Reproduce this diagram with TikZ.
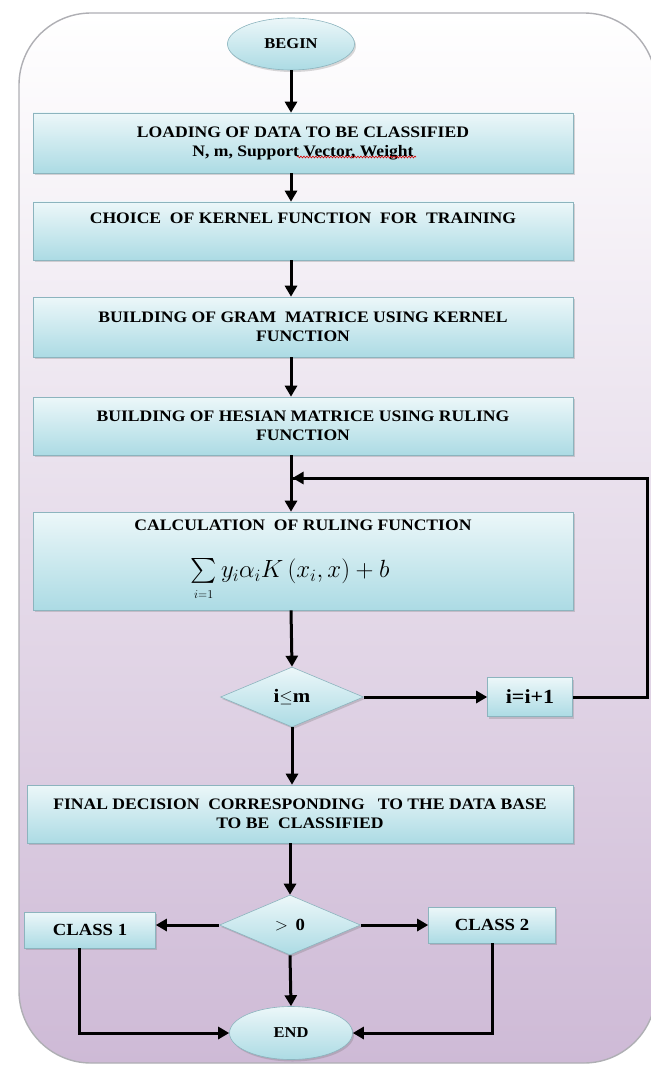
\documentclass[tikz,border=0pt]{standalone}
\usepackage{exscale}
\usepackage{fontspec}
\setmainfont[FakeStretch=1.1]{Liberation Serif}
\usetikzlibrary{arrows.meta,shapes.geometric,shadows,decorations.pathmorphing}
\definecolor{boxtop}{RGB}{236,247,249}
\definecolor{boxbot}{RGB}{172,219,228}
\definecolor{boxline}{RGB}{140,180,190}
\definecolor{bgbot}{RGB}{206,186,214}
\definecolor{bgline}{RGB}{175,175,180}
\tikzset{
  fillgrad/.style={top color=boxtop, bottom color=boxbot, draw=boxline, line width=0.6pt,
    drop shadow={shadow xshift=1.5pt, shadow yshift=-2pt, opacity=0.25, fill=black!60}},
  proc/.style={fillgrad, rectangle, inner sep=0pt, align=center,
    font=\bfseries\fontsize{16}{19}\selectfont},
  txt/.style={inner sep=0pt, align=center, font=\bfseries\fontsize{16}{19}\selectfont},
  term/.style={fillgrad, ellipse, inner sep=0pt, font=\bfseries\fontsize{15}{18}\selectfont},
  dec/.style={fillgrad, diamond, inner sep=0pt, font=\bfseries\fontsize{19}{22}\selectfont},
  small/.style={font=\bfseries\fontsize{17}{20}\selectfont},
  arr/.style={-{Triangle[length=11pt,width=12pt]}, line width=3pt},
  ln/.style={line width=3pt},
}
\begin{document}
\begin{tikzpicture}[x=1pt,y=-1pt]
\useasboundingbox (0,0) rectangle (650,1067);
% background
\shade[top color=white, bottom color=bgbot, rounded corners=72pt]
  (19,13) rectangle (656,1063);
\draw[bgline, line width=1.4pt, rounded corners=72pt] (19,13) rectangle (656,1063);

% nodes
\node[term, minimum width=127pt, minimum height=52pt] (begin) at (291,44) {BEGIN};
\node[proc, minimum width=540pt, minimum height=60pt] (b1) at (303,143)
  {LOADING OF DATA TO BE CLASSIFIED\\ N, m, Support Vector, Weight};
\node[proc, minimum width=540pt, minimum height=58pt] (b2) at (303,231) {};
\node[txt] (t2) at (303,218) {CHOICE \ OF KERNEL FUNCTION \ FOR \ TRAINING};
\node[proc, minimum width=540pt, minimum height=60pt] (b3) at (303,327)
  {BUILDING OF GRAM \ MATRICE USING KERNEL\\ FUNCTION};
\node[proc, minimum width=540pt, minimum height=58pt] (b4) at (303,426)
  {BUILDING OF HESIAN MATRICE USING RULING\\ FUNCTION};
\node[proc, minimum width=540pt, minimum height=98pt] (b5) at (303,561) {};
\node[txt] (t5) at (303,525) {CALCULATION \ OF RULING FUNCTION};
\node[txt, font=\fontsize{23}{26}\selectfont] (f5) at (290,580)
  {$\sum\limits_{\scriptscriptstyle i=1} y_i\alpha_i K\left(x_i,x\right)+b$};
\node[dec, minimum width=143pt, minimum height=60pt] (d1) at (292,697) {i$\leq$m};
\node[proc, minimum width=85pt, minimum height=39pt, font=\bfseries\fontsize{20}{22}\selectfont] (inc) at (530,697) {i=i+1};
\node[proc, minimum width=546pt, minimum height=58pt] (b6) at (300,814)
  {FINAL DECISION \ CORRESPONDING \ \ TO THE DATA BASE\\ TO BE \ CLASSIFIED};
\node[dec, minimum width=141pt, minimum height=60pt, font=\bfseries\fontsize{17}{20}\selectfont] (d2) at (290,925) {$>$ \,0};
\node[proc, minimum width=131pt, minimum height=36pt, small] (c1) at (90,930) {CLASS 1};
\node[proc, minimum width=127pt, minimum height=36pt, small] (c2) at (492,925) {CLASS 2};
\node[term, minimum width=123pt, minimum height=53pt] (end) at (291,1033) {END};

% spell-check squiggle
\draw[red!85!black, line width=0.6pt, decorate, decoration={snake, amplitude=0.9pt, segment length=3pt}]
  (297,157) -- (416,157);

\coordinate (merge) at (291,478);
\coordinate (rc) at (647,697);

% connectors
\draw[arr] (begin.south -| merge) -- (b1.north -| merge);
\draw[arr] (b1.south -| merge) -- (b2.north -| merge);
\draw[arr] (b2.south -| merge) -- (b3.north -| merge);
\draw[arr] (b3.south -| merge) -- (b4.north -| merge);
\draw[arr] (b4.south -| merge) -- (b5.north -| merge);
\draw[ln] (inc.east) -- (rc) |- ([xshift=1.5pt]merge);
\draw[arr] (rc |- merge) -- ([xshift=1.5pt]merge);
\draw[arr] (b5.south -| merge) -- (d1.north);
\draw[arr] (d1.east) -- (inc.west);
\draw[arr] (d1.south) -- (b6.north -| d1.south);
\draw[arr] (b6.south -| d2.north) -- (d2.north);
\draw[arr] (d2.west) -- (c1.east |- d2.west);
\draw[arr] (d2.east) -- (c2.west |- d2.east);
\draw[arr] (d2.south) -- (end.north);
\draw[arr] (c1.south -| 79,0) |- (end.west);
\draw[arr] (c2.south) |- (end.east);
\end{tikzpicture}
\end{document}
